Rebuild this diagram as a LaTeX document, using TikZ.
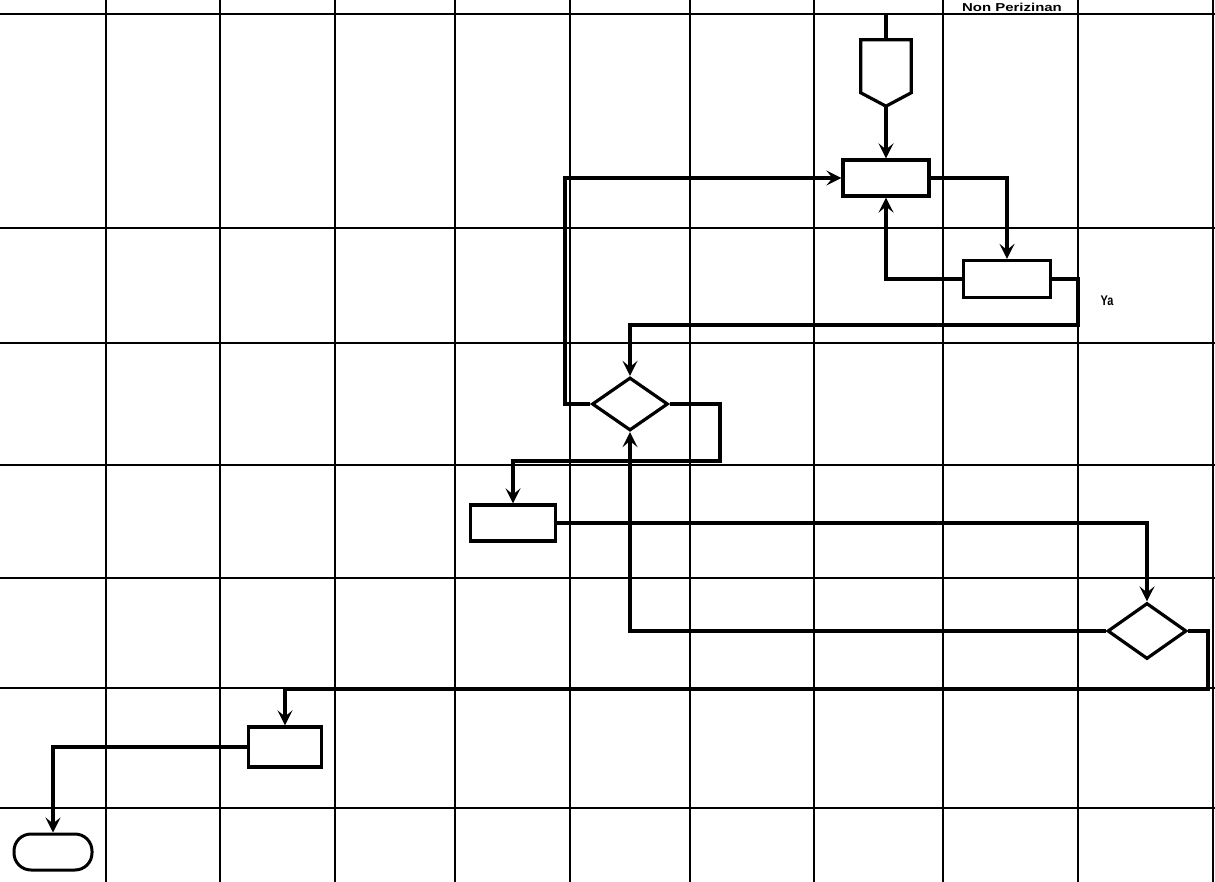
\documentclass[tikz,border=0pt]{standalone}
\usepackage{fontspec}
\setmainfont{Liberation Sans}
\usetikzlibrary{shapes.geometric,arrows.meta,calc}
\begin{document}
\begin{tikzpicture}[x=1pt,y=-1pt,
  gridline/.style={line width=1.6pt,black},
  box/.style={draw,line width=3.2pt,rectangle,inner sep=0pt,minimum width=#1},
  box/.default=86pt,
  dec/.style={draw,line width=3.2pt,diamond,inner sep=0pt,minimum width=76pt,minimum height=53pt},
  term/.style={draw,line width=3pt,rectangle,rounded corners=17pt,inner sep=0pt,minimum width=78pt,minimum height=36pt},
  flow/.style={draw,line width=3.4pt,line join=miter},
  arr/.style={flow,-{Stealth[length=15pt,width=15pt,inset=6pt]}},
  lbl/.style={inner sep=0pt}
]
\useasboundingbox (0,0) rectangle (1215,882);
\fill[white] (0,0) rectangle (1215,882);
% grid
\foreach \y in {14,228,343,465,578,688,808}
  \draw[gridline] (0,\y) -- (1215,\y);
\foreach \x in {106,220,335,455,570,690,814,943,1078,1213}
  \draw[gridline] (\x,0) -- (\x,882);
% header text
\node[lbl,font=\fontsize{11.5}{11.5}\selectfont\bfseries,anchor=base] (hdr) at (1012,11.5) {\scalebox{1.3}[1]{Non Perizinan}};
% off-page connector
\node[minimum width=50pt,minimum height=66pt,inner sep=0pt] (off) at (886,73) {};
\draw[line width=3.2pt,line join=miter] (off.north west) -- (off.north east) -- ++(0,53) -- (off.south) -- ($(off.north west)+(0,53)$) -- cycle;
% nodes
\node[box=86pt,minimum height=36pt] (A) at (886,178) {};
\node[box=87pt,minimum height=37pt] (B) at (1007,279) {};
\node[dec] (D1) at (630,404) {};
\node[box=85pt,minimum height=36pt] (C) at (513,523) {};
\node[dec,minimum width=79pt,minimum height=56pt] (D2) at (1147,631) {};
\node[box=73pt,minimum height=40pt] (D) at (285,747) {};
\node[term] (T) at (53,852) {};
\node[lbl,font=\fontsize{14}{14}\selectfont\bfseries] (ya) at (1107,301) {\scalebox{0.78}[1]{Ya}};
% routing points
\coordinate (top) at (886,14);
\coordinate (c0) at (565,404);
\coordinate (c1) at (1078,325);
\coordinate (c2) at (720,461);
\coordinate (c3) at (1208,689);
% connectors
\draw[flow] (top) -- (off.north);
\draw[arr] (off.south) -- (A.north);
\draw[arr] (D1.west) -- (c0) |- (A.west);
\draw[arr] (A.east) -| (B.north);
\draw[arr] (B.west) -| (A.south);
\draw[arr] (B.east) -| (c1) -| (D1.north);
\draw[arr] (D1.east) -| (c2) -| (C.north);
\draw[arr] (C.east) -| (D2.north);
\draw[arr] (D2.west) -| (D1.south);
\draw[arr] (D2.east) -| (c3) -| (D.north);
\draw[arr] (D.west) -| (T.north);
\end{tikzpicture}
\end{document}
